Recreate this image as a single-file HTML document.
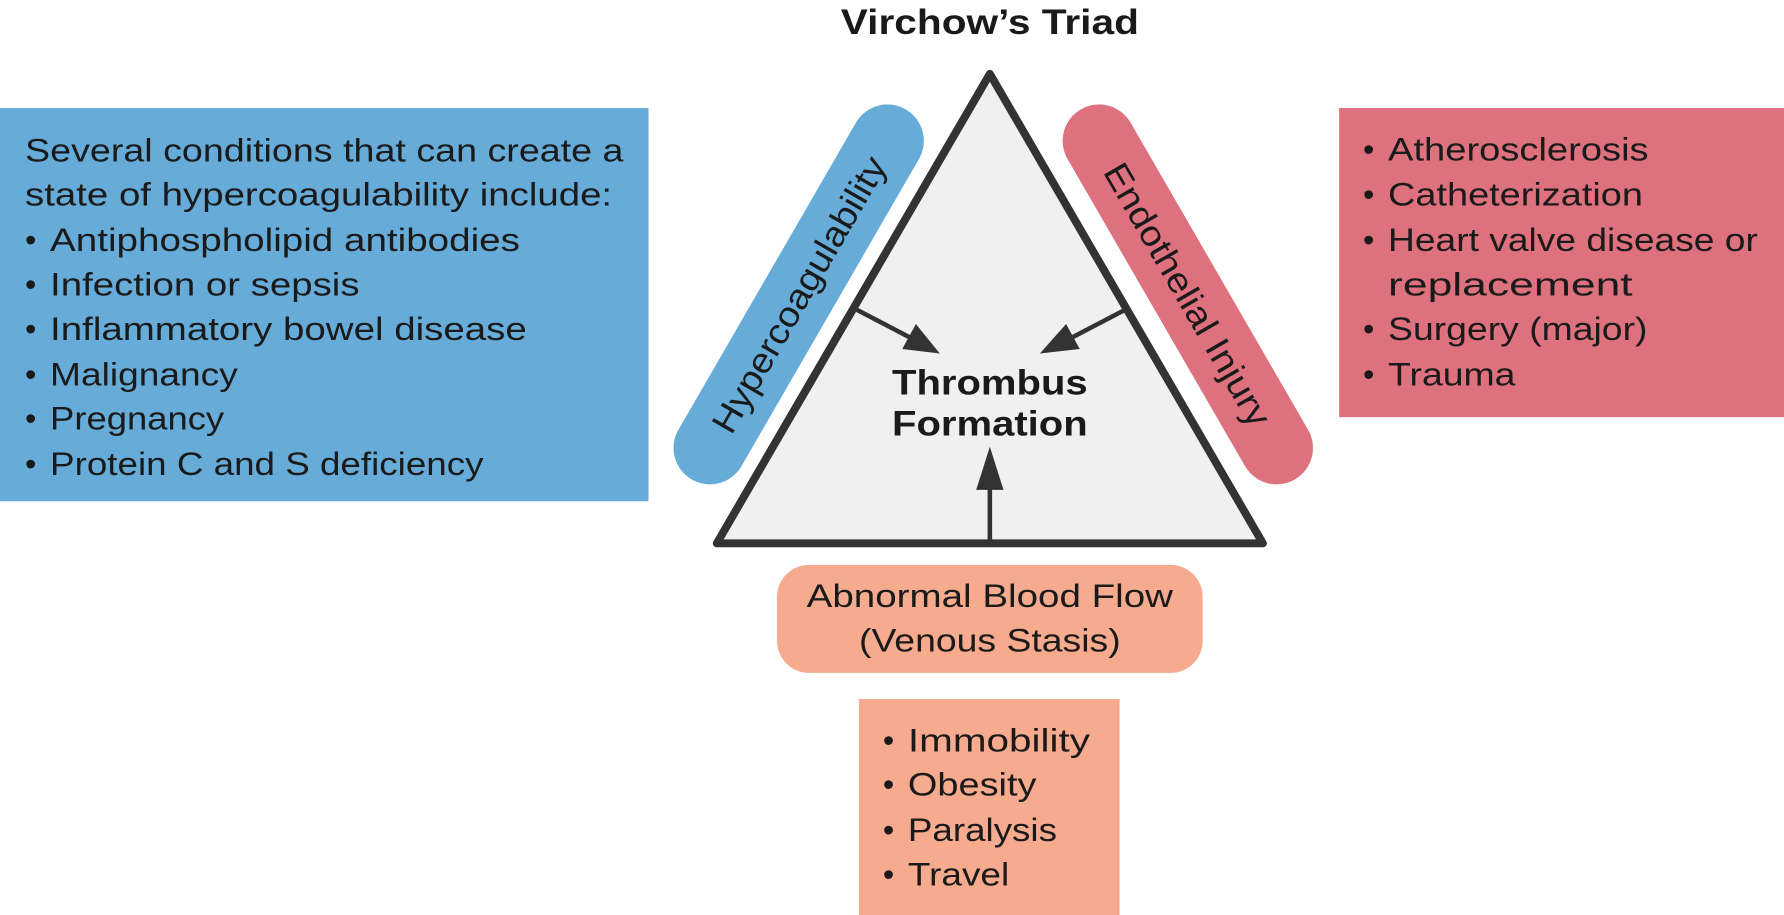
<!DOCTYPE html>
<html><head><meta charset="utf-8"><style>
html,body{margin:0;padding:0;background:#fff;width:1784px;height:915px;overflow:hidden}
svg{display:block}
text{font-family:"Liberation Sans",sans-serif;fill:#1a1a1a}
.b{font-size:28.5px}
.h{font-weight:bold;font-size:31px}
</style></head><body>
<svg width="1784" height="915" viewBox="0 0 1568 805" preserveAspectRatio="none">
<text class="h" x="870" y="30" text-anchor="middle" textLength="262" lengthAdjust="spacingAndGlyphs">Virchow’s Triad</text>

<rect x="0" y="95" width="570" height="346" fill="#67acd8"/>
<g class="b">
<text x="22" y="142" textLength="526" lengthAdjust="spacingAndGlyphs">Several conditions that can create a</text>
<text x="22" y="181" textLength="516" lengthAdjust="spacingAndGlyphs">state of hypercoagulability include:</text>
<text x="22" y="221">•</text><text x="44" y="221" textLength="413" lengthAdjust="spacingAndGlyphs">Antiphospholipid antibodies</text>
<text x="22" y="260">•</text><text x="44" y="260" textLength="272" lengthAdjust="spacingAndGlyphs">Infection or sepsis</text>
<text x="22" y="299">•</text><text x="44" y="299" textLength="419" lengthAdjust="spacingAndGlyphs">Inflammatory bowel disease</text>
<text x="22" y="339">•</text><text x="44" y="339" textLength="165" lengthAdjust="spacingAndGlyphs">Malignancy</text>
<text x="22" y="378">•</text><text x="44" y="378" textLength="153" lengthAdjust="spacingAndGlyphs">Pregnancy</text>
<text x="22" y="418">•</text><text x="44" y="418" textLength="381" lengthAdjust="spacingAndGlyphs">Protein C and S deficiency</text>
</g>

<rect x="1177" y="95" width="391" height="272" fill="#dd717e"/>
<g class="b">
<text x="1198" y="141">•</text><text x="1220" y="141" textLength="229" lengthAdjust="spacingAndGlyphs">Atherosclerosis</text>
<text x="1198" y="181">•</text><text x="1220" y="181" textLength="224" lengthAdjust="spacingAndGlyphs">Catheterization</text>
<text x="1198" y="221">•</text><text x="1220" y="221" textLength="325" lengthAdjust="spacingAndGlyphs">Heart valve disease or</text>
<text x="1220" y="260" textLength="215" lengthAdjust="spacingAndGlyphs">replacement</text>
<text x="1198" y="299">•</text><text x="1220" y="299" textLength="228" lengthAdjust="spacingAndGlyphs">Surgery (major)</text>
<text x="1198" y="339">•</text><text x="1220" y="339" textLength="112" lengthAdjust="spacingAndGlyphs">Trauma</text>
</g>

<polygon points="870,65 630,478 1110,478" fill="#f0f0f0" stroke="#333" stroke-width="7" stroke-linejoin="round"/>

<g transform="translate(702,259) rotate(-60)">
<rect x="-188" y="-32" width="376" height="64" rx="32" fill="#67acd8"/>
<text x="0" y="11" text-anchor="middle" textLength="275" lengthAdjust="spacingAndGlyphs" style="font-size:31px">Hypercoagulability</text>
</g>
<g transform="translate(1044,259) rotate(60)">
<rect x="-188" y="-32" width="376" height="64" rx="32" fill="#dd717e"/>
<text x="0" y="11" text-anchor="middle" textLength="262" lengthAdjust="spacingAndGlyphs" style="font-size:31px">Endothelial Injury</text>
</g>

<g stroke="#333" stroke-width="4" fill="#333">
<line x1="752" y1="272" x2="800" y2="297"/>
<polygon points="826,311 793,307 805,285" stroke="none"/>
<line x1="990" y1="272" x2="942" y2="297"/>
<polygon points="914,311 937,285 949,307" stroke="none"/>
<line x1="870" y1="478" x2="870" y2="425"/>
<polygon points="870,393 858,431 882,431" stroke="none"/>
</g>
<text class="h" x="870" y="347" text-anchor="middle" textLength="172" lengthAdjust="spacingAndGlyphs">Thrombus</text>
<text class="h" x="870" y="383" text-anchor="middle" textLength="172" lengthAdjust="spacingAndGlyphs">Formation</text>

<rect x="683" y="497" width="374" height="95" rx="28" fill="#f6aa8e"/>
<text class="b" x="870" y="534" text-anchor="middle" textLength="322" lengthAdjust="spacingAndGlyphs">Abnormal Blood Flow</text>
<text class="b" x="870" y="573" text-anchor="middle" textLength="230" lengthAdjust="spacingAndGlyphs">(Venous Stasis)</text>

<rect x="755" y="615" width="229" height="190" fill="#f6aa8e"/>
<g class="b">
<text x="776" y="661">•</text><text x="798" y="661" textLength="160" lengthAdjust="spacingAndGlyphs">Immobility</text>
<text x="776" y="700">•</text><text x="798" y="700" textLength="113" lengthAdjust="spacingAndGlyphs">Obesity</text>
<text x="776" y="740">•</text><text x="798" y="740" textLength="131" lengthAdjust="spacingAndGlyphs">Paralysis</text>
<text x="776" y="779">•</text><text x="798" y="779" textLength="89" lengthAdjust="spacingAndGlyphs">Travel</text>
</g>
</svg>
</body></html>
